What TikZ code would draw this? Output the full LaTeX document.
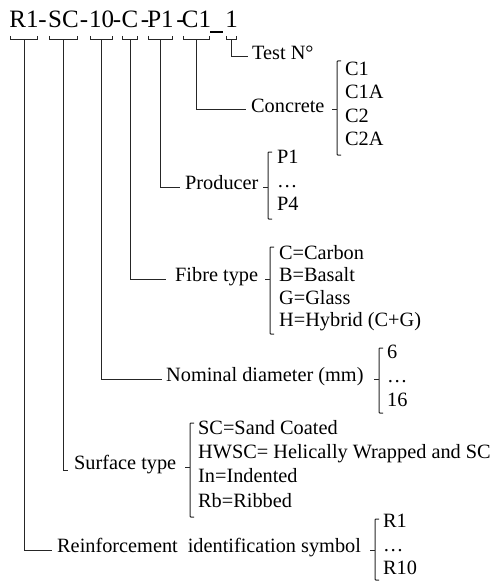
\documentclass[tikz,border=0pt]{standalone}
\usepackage{fontspec}
\setmainfont{Liberation Serif}
\usetikzlibrary{calc}
\tikzset{
  ln/.style={draw=black!85, line width=1pt},
  ttl/.style={font=\fontsize{25}{30}\selectfont, inner sep=0pt, anchor=base},
  lbl/.style={font=\fontsize{20.3}{24}\selectfont, inner sep=0pt, anchor=mid west},
}
% bracket under a title piece
\newcommand\ubrk[1]{%
  \draw[ln] ([xshift=1.5pt,yshift=-8pt]#1.base west) -- ++(0,4) -- ([xshift=-1.5pt,yshift=-12pt]#1.base east) -- ++(0,-4);}
% brace: x, top, bottom, mid
\newcommand\mybrace[4]{%
  \draw[ln, rounded corners=0.8pt] (#1,#2) ++(4,0) -- ++(-4,0) -- (#1,#3) -- ++(4,0);
  \draw[ln] (#1,#4) -- ++(-5,0);}
\begin{document}
\begin{tikzpicture}[x=1pt,y=-1pt]
\useasboundingbox (0,0) rectangle (494,583);
% title pieces
\node[ttl] (t1) at (24,28) {R1};
\node[ttl] (d1) at (42.5,28) {-};
\node[ttl] (t2) at (63.5,28) {SC};
\node[ttl] (d2) at (84,28) {-};
\node[ttl] (t3) at (101.5,28) {10};
\node[ttl] (d3) at (117,28) {-};
\node[ttl] (t4) at (130,28) {C};
\node[ttl] (d4) at (145,28) {-};
\node[ttl] (t5) at (160.5,28) {P1};
\node[ttl] (d5) at (180.5,28) {-};
\node[ttl] (t6) at (196.5,28) {C1};
\node[fill=black, inner sep=0pt, minimum width=13pt, minimum height=2.4pt] (us) at (216.5,32) {};
\node[ttl] (t7) at (231.5,28) {1};
\foreach \n in {t1,t2,t3,t4,t5,t6,t7} {\ubrk{\n}}
% labels
\node[lbl] (test) at (252,57) {Test N°};
\node[lbl] (conc) at (251,110) {Concrete};
\node[lbl] (prod) at (185,187) {Producer};
\node[lbl] (fib) at (175,279) {Fibre type};
\node[lbl] (nom) at (166,379) {Nominal diameter (mm)};
\node[lbl] (surf) at (74,467) {Surface type};
\node[lbl] (reinf) at (57,550) {Reinforcement\hspace{10pt}identification symbol};
% connectors
\draw[ln] ([yshift=-12pt]t7.base) |- ([xshift=-4pt]test.mid west);
\draw[ln] ([yshift=-12pt]t6.base) |- ([xshift=-5pt]conc.mid west);
\draw[ln] ([yshift=-12pt]t5.base) |- ([xshift=-5pt]prod.mid west);
\draw[ln] ([yshift=-12pt]t4.base) |- ([xshift=-9pt]fib.mid west);
\draw[ln] ([yshift=-12pt]t3.base) |- ([xshift=-4pt]nom.mid west);
\draw[ln] ([yshift=-12pt]t2.base) |- ([xshift=-6pt,yshift=-1pt]surf.base west);
\draw[ln] ([yshift=-12pt]t1.base) |- ([xshift=-5pt]reinf.mid west);
% Concrete
\mybrace{337}{61}{155}{110}
\node[lbl] (c1) at (345,73) {C1};
\node[lbl] (c1a) at (345,96.5) {C1A};
\node[lbl] (c2) at (345,120) {C2};
\node[lbl] (c2a) at (345,143.5) {C2A};
% Producer
\mybrace{268}{152}{219}{187}
\node[lbl] (p1) at (277,161) {P1};
\node[lbl] (pd) at (277,185) {…};
\node[lbl] (p4) at (277,208) {P4};
% Fibre
\mybrace{270}{247}{334}{279}
\node[lbl] (fc) at (279,257) {C=Carbon};
\node[lbl] (fb) at (279,279.5) {B=Basalt};
\node[lbl] (fg) at (279,302) {G=Glass};
\node[lbl] (fh) at (279,324.5) {H=Hybrid (C+G)};
% Nominal
\mybrace{379}{348}{413}{379}
\node[lbl] (n6) at (387,356) {6};
\node[lbl] (nd) at (387,380) {…};
\node[lbl] (n16) at (387,404) {16};
% Surface
\mybrace{190}{423}{517}{467}
\node[lbl] (ssc) at (198,432) {SC=Sand Coated};
\node[lbl] (shw) at (198,456) {HWSC= Helically Wrapped and SC};
\node[lbl] (sin) at (198,480.5) {In=Indented};
\node[lbl] (srb) at (198,505) {Rb=Ribbed};
% Reinforcement
\mybrace{375}{519}{580}{550}
\node[lbl] (r1) at (383,525) {R1};
\node[lbl] (rd) at (383,549) {…};
\node[lbl] (r10) at (383,572) {R10};
\end{tikzpicture}
\end{document}
